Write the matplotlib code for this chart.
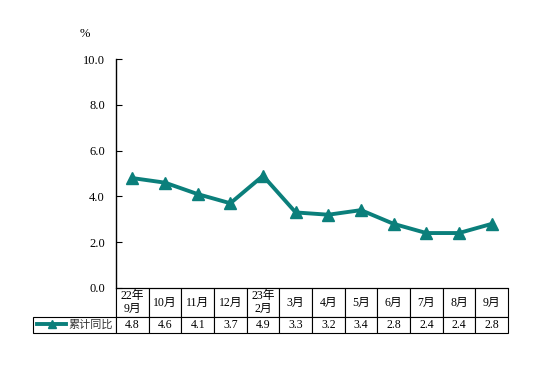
import matplotlib
matplotlib.use('Agg')
import matplotlib.pyplot as plt

plt.rcParams['font.family'] = ['Liberation Serif', 'Noto Sans CJK SC']

months = ['22年\n9月', '10月', '11月', '12月', '23年\n2月', '3月', '4月',
          '5月', '6月', '7月', '8月', '9月']
growth = [4.8, 4.6, 4.1, 3.7, 4.9, 3.3, 3.2, 3.4, 2.8, 2.4, 2.4, 2.8]
series_name = '累计同比'
yticks = [0, 2, 4, 6, 8, 10]

teal = '#0b7f7b'

fig = plt.figure(figsize=(5.54, 3.69), dpi=100)
ax = fig.add_axes([116 / 554, 1 - 288 / 369, 392 / 554, 229 / 369])

x = list(range(len(months)))
ax.plot(x, growth, color=teal, lw=2.8, marker='^', ms=8, label=series_name)

ax.set_xlim(-0.5, len(months) - 0.5)
ax.set_ylim(0, 10)
ax.set_yticks(yticks)
ax.set_yticklabels([f'{v:.1f}' for v in yticks], fontsize=9)
ax.tick_params(axis='y', direction='in', length=4, pad=8)
ax.set_xticks([])
for s in ['top', 'right']:
    ax.spines[s].set_visible(False)
ax.spines['left'].set_linewidth(1)
ax.spines['bottom'].set_linewidth(0.8)
ax.text(-0.08, 1.095, '%', transform=ax.transAxes, fontsize=9, ha='center')

# data table below the axes: first column holds the legend
col_w = [83] + [392 / 12] * len(months)
tab = ax.table(cellText=[[''] + months, [''] + [f'{v:.1f}' for v in growth]],
               colWidths=col_w, cellLoc='center',
               bbox=[-83 / 392, -45 / 229, 475 / 392, 45 / 229])
tab.auto_set_font_size(False)
tab.set_fontsize(8.5)
for (r, c), cell in tab.get_celld().items():
    cell.set_linewidth(0.8)
    cell.set_height(29 if r == 0 else 16)
    if r == 0 and c == 0:
        cell.visible_edges = 'R'

leg = ax.legend(loc='center left', bbox_to_anchor=(-80 / 392, -37 / 229),
                frameon=False, fontsize=8, handlelength=2.6,
                handletextpad=0.2, borderaxespad=0, borderpad=0.1,
                markerscale=0.7)
leg.get_texts()[0].set_color('#333333')

fig.savefig('out.png', dpi=100)
